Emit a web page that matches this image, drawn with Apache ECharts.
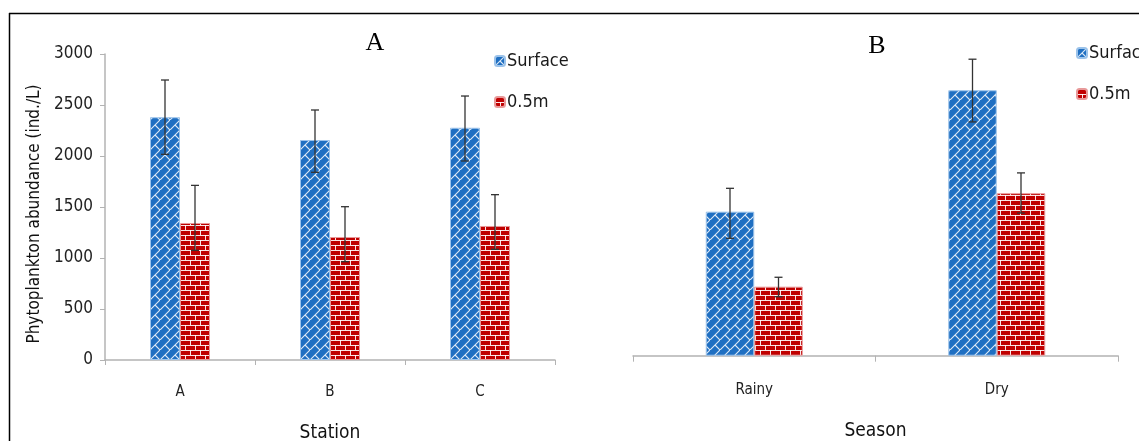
<!DOCTYPE html>
<html>
<head>
<meta charset="utf-8">
<script src="https://cdn.jsdelivr.net/npm/echarts@6/dist/echarts.min.js"></script>
<style>html,body{margin:0;padding:0;background:#fff;}#c{width:1139px;height:441px;}</style>
</head>
<body>
<div id="c"></div>
<script>
// ---- Data ----
const stations = ['A', 'B', 'C'];
const stationSurface = [2380, 2157, 2277];
const stationSurfaceLow = [2016, 1840, 1951];
const stationSurfaceHigh = [2745, 2451, 2588];
const stationDeep = [1343, 1206, 1314];
const stationDeepLow = [1075, 964, 1085];
const stationDeepHigh = [1712, 1503, 1621];

const seasons = ['Rainy', 'Dry'];
const seasonSurface = [1438, 2650];
const seasonSurfaceLow = [1172, 2334];
const seasonSurfaceHigh = [1671, 2960];
const seasonDeep = [689, 1622];
const seasonDeepLow = [589, 1424];
const seasonDeepHigh = [783, 1825];

const yTicksA = [0, 500, 1000, 1500, 2000, 2500, 3000];

// ---- Patterns ----
function bluePattern() {
  const s = 10, c = document.createElement('canvas');
  c.width = s; c.height = s;
  const g = c.getContext('2d');
  g.fillStyle = '#1f6fc2'; g.fillRect(0, 0, s, s);
  g.strokeStyle = 'rgba(255,255,255,0.85)'; g.lineWidth = 1.1;
  g.beginPath();
  g.moveTo(-1, s + 1); g.lineTo(s + 1, -1);
  g.moveTo(s / 2, s / 2); g.lineTo(s + 1, s + 1);
  g.stroke();
  return c;
}
function redPattern() {
  const w = 10, h = 10, c = document.createElement('canvas');
  c.width = w; c.height = h;
  const g = c.getContext('2d');
  g.fillStyle = '#c00000'; g.fillRect(0, 0, w, h);
  g.fillStyle = 'rgba(255,255,255,0.9)';
  g.fillRect(0, 0, w, 1);
  g.fillRect(0, 5, w, 1);
  g.fillRect(0, 0, 1, 5);
  g.fillRect(5, 5, 1, 5);
  return c;
}
const blueFill = { image: bluePattern(), repeat: 'repeat' };
const redFill = { image: redPattern(), repeat: 'repeat' };

const FONT = "'Liberation Sans Narrow', 'DejaVu Sans Condensed', 'Noto Sans', sans-serif";

function errorSeries(name, xAxisIndex, yAxisIndex, cats, low, high, offsetFrac) {
  return {
    type: 'custom',
    name: name + ' error',
    xAxisIndex: xAxisIndex, yAxisIndex: yAxisIndex,
    silent: true, z: 10,
    data: cats.map((c, i) => [i, low[i], high[i]]),
    renderItem: function (params, api) {
      const band = api.size([1, 0])[0];
      const x = api.coord([api.value(0), 0])[0] + band * offsetFrac;
      const pLow = api.coord([api.value(0), api.value(1)]);
      const pHigh = api.coord([api.value(0), api.value(2)]);
      const cap = 4;
      const st = { stroke: '#333', lineWidth: 1.3 };
      return {
        type: 'group',
        children: [
          { type: 'line', shape: { x1: x, y1: pHigh[1], x2: x, y2: pLow[1] }, style: st },
          { type: 'line', shape: { x1: x - cap, y1: pHigh[1], x2: x + cap, y2: pHigh[1] }, style: st },
          { type: 'line', shape: { x1: x - cap, y1: pLow[1], x2: x + cap, y2: pLow[1] }, style: st }
        ]
      };
    }
  };
}

const axisColor = '#b3b3b3';
const chart = echarts.init(document.getElementById('c'), null, { renderer: 'canvas' });
chart.setOption({
  animation: false,
  backgroundColor: '#fff',
  title: [
    { text: 'A', left: 370, top: 25, textAlign: 'center',
      textStyle: { fontFamily: "'Liberation Serif', 'DejaVu Serif', serif", fontSize: 26, fontWeight: 'normal', color: '#000' } },
    { text: 'B', left: 872, top: 28, textAlign: 'center',
      textStyle: { fontFamily: "'Liberation Serif', 'DejaVu Serif', serif", fontSize: 26, fontWeight: 'normal', color: '#000' } }
  ],
  legend: [
    { orient: 'vertical', left: 489, top: 47, itemWidth: 10, itemHeight: 10, itemGap: 23,
      data: ['Surface', '0.5m'], selectedMode: false,
      textStyle: { fontFamily: FONT, fontSize: 18, color: '#1a1a1a', padding: [0, 0, 0, -3] } },
    { orient: 'vertical', left: 1071, top: 39, itemWidth: 10, itemHeight: 10, itemGap: 23,
      data: ['Surface', '0.5m'], selectedMode: false,
      textStyle: { fontFamily: FONT, fontSize: 18, color: '#1a1a1a', padding: [0, 0, 0, -3] } }
  ],
  grid: [
    { left: 105, top: 54, width: 450, height: 306, outerBoundsMode: 'none', containLabel: false },
    { left: 633, top: 55.2, width: 485, height: 300.5, outerBoundsMode: 'none', containLabel: false }
  ],
  xAxis: [
    { type: 'category', gridIndex: 0, data: stations,
      axisLine: { lineStyle: { color: axisColor, width: 1.5 } },
      axisTick: { show: true, length: 5, lineStyle: { color: axisColor } },
      axisLabel: { margin: 25, fontFamily: FONT, fontSize: 15, color: '#222' },
      name: 'Station', nameLocation: 'middle', nameGap: 64,
      nameTextStyle: { fontFamily: FONT, fontSize: 19, color: '#111' } },
    { type: 'category', gridIndex: 1, data: seasons,
      axisLine: { lineStyle: { color: axisColor, width: 1.5 } },
      axisTick: { show: true, length: 6, lineStyle: { color: axisColor } },
      axisLabel: { margin: 27, fontFamily: FONT, fontSize: 15, color: '#222' },
      name: 'Season', nameLocation: 'middle', nameGap: 66,
      nameTextStyle: { fontFamily: FONT, fontSize: 19, color: '#111' } }
  ],
  yAxis: [
    { type: 'value', gridIndex: 0, min: yTicksA[0], max: yTicksA[yTicksA.length - 1], interval: 500,
      splitLine: { show: false },
      axisLine: { show: true, lineStyle: { color: axisColor, width: 1.5 } },
      axisTick: { show: true, length: 5, lineStyle: { color: axisColor } },
      axisLabel: { margin: 12, fontFamily: FONT, fontSize: 17, color: '#222', formatter: v => String(v) },
      name: 'Phytoplankton abundance (ind./L)', nameLocation: 'middle', nameRotate: 90, nameGap: 62,
      nameTextStyle: { fontFamily: FONT, fontSize: 17, color: '#111', padding: [0, 0, 0, -14] } },
    { type: 'value', gridIndex: 1, min: 0, max: 3000, show: false, splitLine: { show: false } }
  ],
  series: [
    { type: 'bar', name: 'Surface', xAxisIndex: 0, yAxisIndex: 0, data: stationSurface,
      barGap: '0%', barCategoryGap: '60%',
      itemStyle: { color: blueFill, borderColor: '#9cc3ea', borderWidth: 1 } },
    { type: 'bar', name: '0.5m', xAxisIndex: 0, yAxisIndex: 0, data: stationDeep,
      barGap: '0%', barCategoryGap: '60%',
      itemStyle: { color: redFill, borderColor: '#e89a9a', borderWidth: 1 } },
    { type: 'bar', name: 'Surface', xAxisIndex: 1, yAxisIndex: 1, data: seasonSurface,
      barGap: '0%', barCategoryGap: '60%',
      itemStyle: { color: blueFill, borderColor: '#9cc3ea', borderWidth: 1 } },
    { type: 'bar', name: '0.5m', xAxisIndex: 1, yAxisIndex: 1, data: seasonDeep,
      barGap: '0%', barCategoryGap: '60%',
      itemStyle: { color: redFill, borderColor: '#e89a9a', borderWidth: 1 } },
    errorSeries('Surface', 0, 0, stations, stationSurfaceLow, stationSurfaceHigh, -0.1),
    errorSeries('0.5m', 0, 0, stations, stationDeepLow, stationDeepHigh, 0.1),
    errorSeries('Surface', 1, 1, seasons, seasonSurfaceLow, seasonSurfaceHigh, -0.1),
    errorSeries('0.5m', 1, 1, seasons, seasonDeepLow, seasonDeepHigh, 0.1)
  ],
  graphic: [
    { type: 'line', shape: { x1: 9, y1: 13.5, x2: 1139, y2: 13.5 }, style: { stroke: '#000', lineWidth: 1.5 }, silent: true },
    { type: 'line', shape: { x1: 9.5, y1: 13, x2: 9.5, y2: 441 }, style: { stroke: '#000', lineWidth: 1.5 }, silent: true }
  ]
});
</script>
</body>
</html>
